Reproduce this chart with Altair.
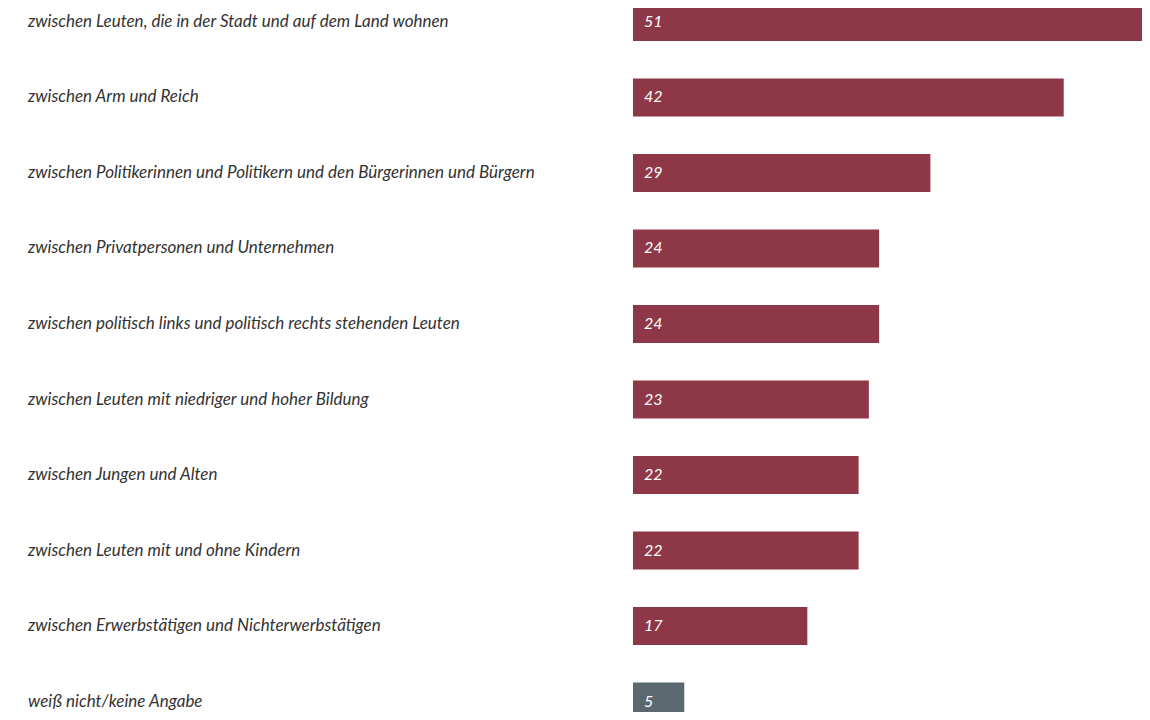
import altair as alt
import pandas as pd

categories = [
    "zwischen Leuten, die in der Stadt und auf dem Land wohnen",
    "zwischen Arm und Reich",
    "zwischen Politikerinnen und Politikern und den Bürgerinnen und Bürgern",
    "zwischen Privatpersonen und Unternehmen",
    "zwischen politisch links und politisch rechts stehenden Leuten",
    "zwischen Leuten mit niedriger und hoher Bildung",
    "zwischen Jungen und Alten",
    "zwischen Leuten mit und ohne Kindern",
    "zwischen Erwerbstätigen und Nichterwerbstätigen",
    "weiß nicht/keine Angabe",
]
values = [51, 42, 29, 24, 24, 23, 22, 22, 17, 5]
groups = ["main"] * 9 + ["other"]

df = pd.DataFrame({"cat": categories, "val": values, "grp": groups, "zero": [0] * len(values)})

y_enc = alt.Y("cat:N", sort=categories, axis=None,
              scale=alt.Scale(range=[-23.75, 731.25], paddingInner=0.4967, paddingOuter=0.2483))
x_scale = alt.Scale(domain=[0, 51], range=[625, 1148], nice=False, zero=False)

base = alt.Chart(df)

bars = base.mark_bar(cornerRadius=0).encode(
    y=y_enc,
    x=alt.X("zero:Q", scale=x_scale, axis=None),
    x2="val:Q",
    color=alt.Color("grp:N", scale=alt.Scale(domain=["main", "other"], range=["#8E3747", "#5B6870"]), legend=None),
)

vals = base.mark_text(align="left", baseline="middle", dx=11, fontSize=16, fontStyle="italic",
                      font="Lato", color="#FFFFFF").encode(
    y=y_enc,
    x=alt.X("zero:Q", scale=x_scale, axis=None),
    text="val:Q",
)

labels = base.mark_text(align="left", baseline="middle", fontSize=17, fontStyle="italic",
                        font="Lato", color="#333333").encode(
    y=y_enc,
    x=alt.value(20),
    text="cat:N",
)

chart = alt.layer(bars, vals, labels).properties(
    width=1134, height=704,
    autosize=alt.AutoSizeParams(type="none"),
    padding=0,
).configure_view(stroke=None)

chart.save("out.html", embed_options={"renderer": "svg", "actions": False})
